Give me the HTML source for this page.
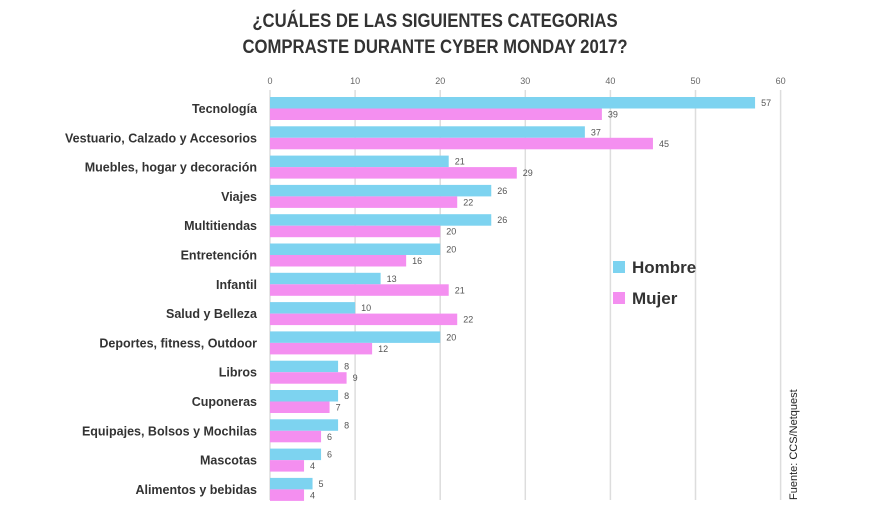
<!DOCTYPE html>
<html><head><meta charset="utf-8"><style>
body{margin:0;background:#fff;width:870px;height:510px;overflow:hidden;font-family:"Liberation Sans",sans-serif}
</style></head><body>
<svg width="870" height="510">
<text x="435" y="27" text-anchor="middle" font-size="19" font-weight="bold" fill="#333" transform="translate(435 0) scale(0.88 1) translate(-435 0)">¿CUÁLES DE LAS SIGUIENTES CATEGORIAS</text>
<text x="435" y="53" text-anchor="middle" font-size="19" font-weight="bold" fill="#333" transform="translate(435 0) scale(0.88 1) translate(-435 0)">COMPRASTE DURANTE CYBER MONDAY 2017?</text>
<g id="grid"></g><g id="bars"></g>
<rect x="613" y="261" width="12" height="12" fill="#7dd3f0"/>
<text x="632" y="273" font-size="17" font-weight="bold" fill="#333">Hombre</text>
<rect x="613" y="292" width="12" height="12" fill="#f48ff0"/>
<text x="632" y="304" font-size="17" font-weight="bold" fill="#333">Mujer</text>
<text transform="translate(797 500) rotate(-90)" font-size="11" fill="#222">Fuente: CCS/Netquest</text>
</svg>
<script>
const categories=["Tecnología","Vestuario, Calzado y Accesorios","Muebles, hogar y decoración","Viajes","Multitiendas","Entretención","Infantil","Salud y Belleza","Deportes, fitness, Outdoor","Libros","Cuponeras","Equipajes, Bolsos y Mochilas","Mascotas","Alimentos y bebidas"];
const hombre=[57,37,21,26,26,20,13,10,20,8,8,8,6,5];
const mujer=[39,45,29,22,20,16,21,22,12,9,7,6,4,4];
const ticks=[0,10,20,30,40,50,60];
const NS="http://www.w3.org/2000/svg";
const x=v=>270+v*8.51;
const y=i=>97+i*29.3;
function mk(t,a,p){const e=document.createElementNS(NS,t);for(const k in a)e.setAttribute(k,a[k]);p.appendChild(e);return e;}
const grid=document.getElementById('grid'),bars=document.getElementById('bars');
ticks.forEach(t=>{
 const l=mk('line',{x1:x(t),x2:x(t),y1:90,y2:500,stroke:'#ddd','stroke-width':1.5},grid);
 
 
 const tx=mk('text',{x:x(t),y:84,'text-anchor':'middle','font-size':9,fill:'#666'},grid);
 tx.textContent=t;
 
 
});
categories.forEach((c,i)=>{
 const lb=mk('text',{x:257,y:y(i)+16,'text-anchor':'end','font-size':12.5,'font-weight':'bold',fill:'#333'},bars);
 lb.textContent=c;
 
 
 [[hombre,'#7dd3f0',0,'hombre'],[mujer,'#f48ff0',11.5,'mujer']].forEach(([arr,col,off,nm])=>{
  const r=mk('rect',{x:x(0),y:y(i)+off,width:x(arr[i])-x(0),height:11.5,fill:col},bars);
  
  
  const v=mk('text',{x:x(arr[i])+6,y:y(i)+off+9,'font-size':9,fill:'#555'},bars);
  v.textContent=arr[i];
  
  
 });
});
</script>
</body></html>
